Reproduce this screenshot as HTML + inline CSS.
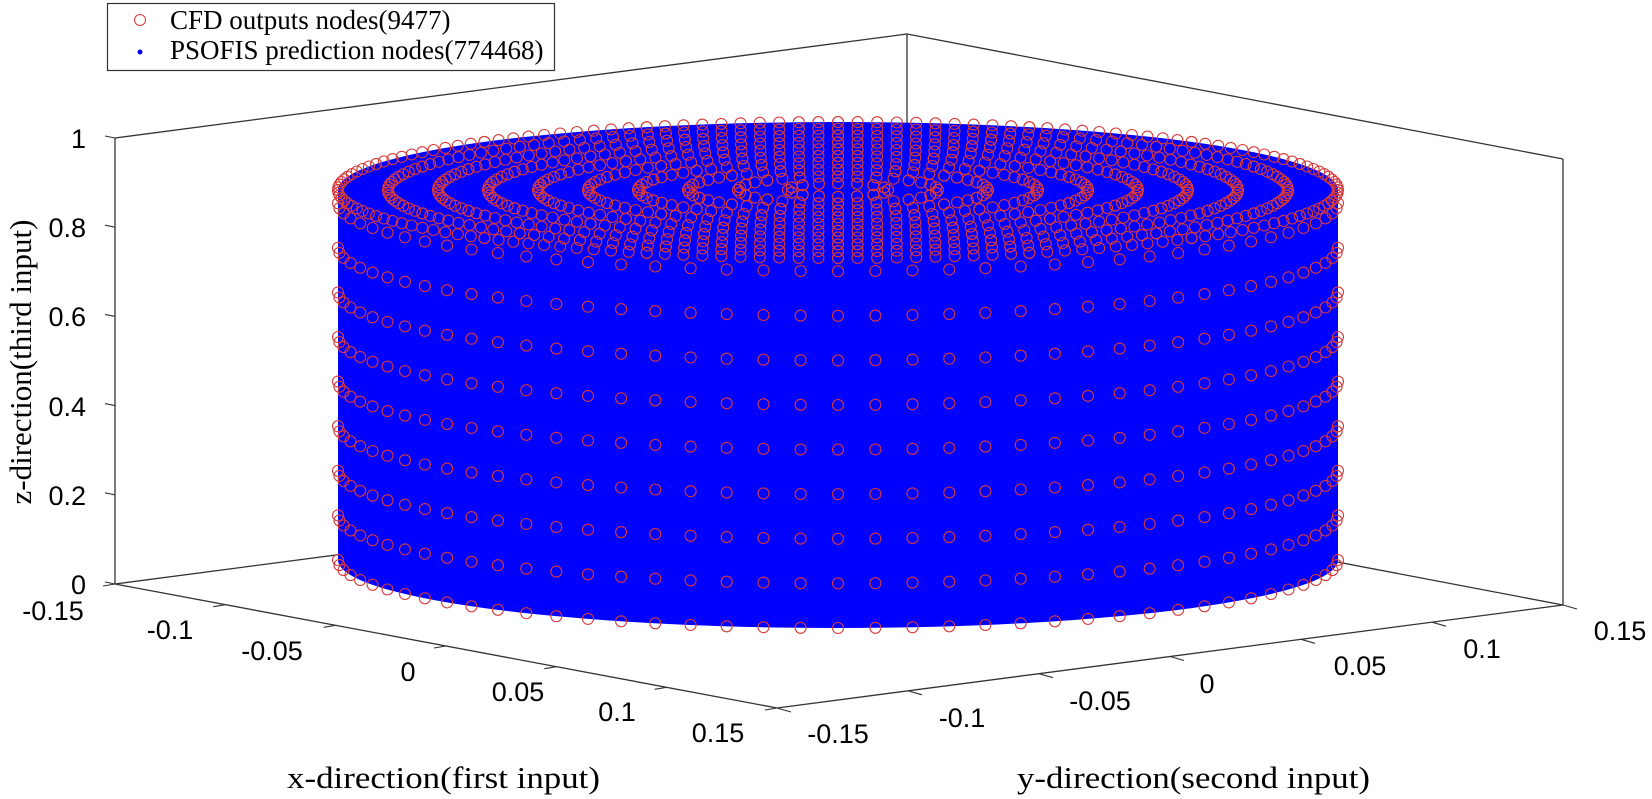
<!DOCTYPE html>
<html><head><meta charset="utf-8"><style>
html,body{margin:0;padding:0;background:#fff;}
svg{display:block;}
.t{font-family:"Liberation Sans",sans-serif;font-size:27px;fill:#000;}
.s{font-family:"Liberation Serif",serif;font-size:31px;fill:#000;}
</style></head><body>
<svg width="1652" height="799" viewBox="0 0 1652 799" xmlns="http://www.w3.org/2000/svg">
<g stroke="#333" stroke-width="1.3" fill="none">
<line x1="115" y1="138" x2="907" y2="34"/>
<line x1="907" y1="34" x2="1563" y2="159"/>
<line x1="907" y1="34" x2="907" y2="480"/>
<line x1="115" y1="584" x2="907" y2="480"/>
<line x1="907" y1="480" x2="1563" y2="605"/>
<line x1="115" y1="138" x2="115" y2="584"/>
<line x1="1563" y1="159" x2="1563" y2="605"/>
<line x1="115" y1="584" x2="777" y2="708"/>
<line x1="777" y1="708" x2="1563" y2="605"/>
</g>
<path d="M338,190 A500,68 0 0 1 1338,190 L1338,560 A500,68 0 0 1 338,560 Z" fill="#0000ff"/>
<g id="circ" fill="none" stroke="#d83a3a" stroke-width="1.1"></g>
<g id="ticks" stroke="#333" stroke-width="1.1"></g>
<g class="t">
<text x="86" y="148" text-anchor="end">1</text>
<text x="86" y="237" text-anchor="end">0.8</text>
<text x="86" y="326" text-anchor="end">0.6</text>
<text x="86" y="416" text-anchor="end">0.4</text>
<text x="86" y="505" text-anchor="end">0.2</text>
<text x="86" y="594" text-anchor="end">0</text>
<text x="53" y="620" text-anchor="middle">-0.15</text>
<text x="170" y="639" text-anchor="middle">-0.1</text>
<text x="272" y="660" text-anchor="middle">-0.05</text>
<text x="408" y="681" text-anchor="middle">0</text>
<text x="518" y="701" text-anchor="middle">0.05</text>
<text x="617" y="721" text-anchor="middle">0.1</text>
<text x="718" y="742" text-anchor="middle">0.15</text>
<text x="838" y="743" text-anchor="middle">-0.15</text>
<text x="962" y="727" text-anchor="middle">-0.1</text>
<text x="1100" y="710" text-anchor="middle">-0.05</text>
<text x="1207" y="693" text-anchor="middle">0</text>
<text x="1360" y="675" text-anchor="middle">0.05</text>
<text x="1482" y="658" text-anchor="middle">0.1</text>
<text x="1620" y="640" text-anchor="middle">0.15</text>
</g>
<text class="s" x="287" y="788" textLength="313" lengthAdjust="spacingAndGlyphs">x-direction(first input)</text>
<text class="s" x="1017" y="788" textLength="353" lengthAdjust="spacingAndGlyphs">y-direction(second input)</text>
<text class="s" transform="translate(31,362) rotate(-90)" text-anchor="middle">z-direction(third input)</text>
<rect x="107.5" y="3.5" width="447" height="67" fill="#fff" stroke="#333" stroke-width="1.2"/>
<circle cx="140" cy="20" r="5.5" fill="none" stroke="#d83a3a"/>
<circle cx="140" cy="52" r="2.5" fill="#0000ff"/>
<text x="170" y="29" style="font-family:'Liberation Serif',serif;font-size:27px">CFD outputs nodes(9477)</text>
<text x="170" y="59" style="font-family:'Liberation Serif',serif;font-size:27px">PSOFIS prediction nodes(774468)</text>
</svg>
<script>
(function(){
var NS="http://www.w3.org/2000/svg",g=document.getElementById("circ"),tk=document.getElementById("ticks");
var cx=838,rx=500,ry=68,cyb=560,sc=446;
function c(x,y,r){var e=document.createElementNS(NS,"circle");e.setAttribute("cx",x.toFixed(1));e.setAttribute("cy",y.toFixed(1));e.setAttribute("r",r);g.appendChild(e);}
for(var k=0;k<=8;k++){var z=k*0.1;var n=42;for(var i=0;i<=n;i++){var th=Math.PI*i/n;c(cx+rx*Math.cos(th),cyb+ry*Math.sin(th)-z*sc,5.5);}}
var cyt=190;
for(var j=1;j<=10;j++){var f=j/10;var n2=Math.round(16*j);for(var i=0;i<n2;i++){var th=2*Math.PI*i/n2;c(cx+rx*f*Math.cos(th),cyt+ry*f*Math.sin(th),5.5);}}
for(var s=0;s<16;s++){var th=2*Math.PI*s/16;for(var j=1;j<=10;j++){var f=j/10;c(cx+rx*f*Math.cos(th),cyt+ry*f*Math.sin(th),5.5);}}
function L(a,b,c2,d){var e=document.createElementNS(NS,"line");e.setAttribute("x1",a);e.setAttribute("y1",b);e.setAttribute("x2",c2);e.setAttribute("y2",d);tk.appendChild(e);}
for(var i=0;i<=5;i++){var y=138+i*89.2;L(105,y-2,115,y);}
for(var i=0;i<=6;i++){var t=i/6;var x=115+(777-115)*t,y=584+(708-584)*t;L(x-12,y+2,x,y);}
for(var i=0;i<=6;i++){var t=i/6;var x=777+(1563-777)*t,y=708+(605-708)*t;L(x,y,x+14,y+4);}
})();
</script>
</body></html>
